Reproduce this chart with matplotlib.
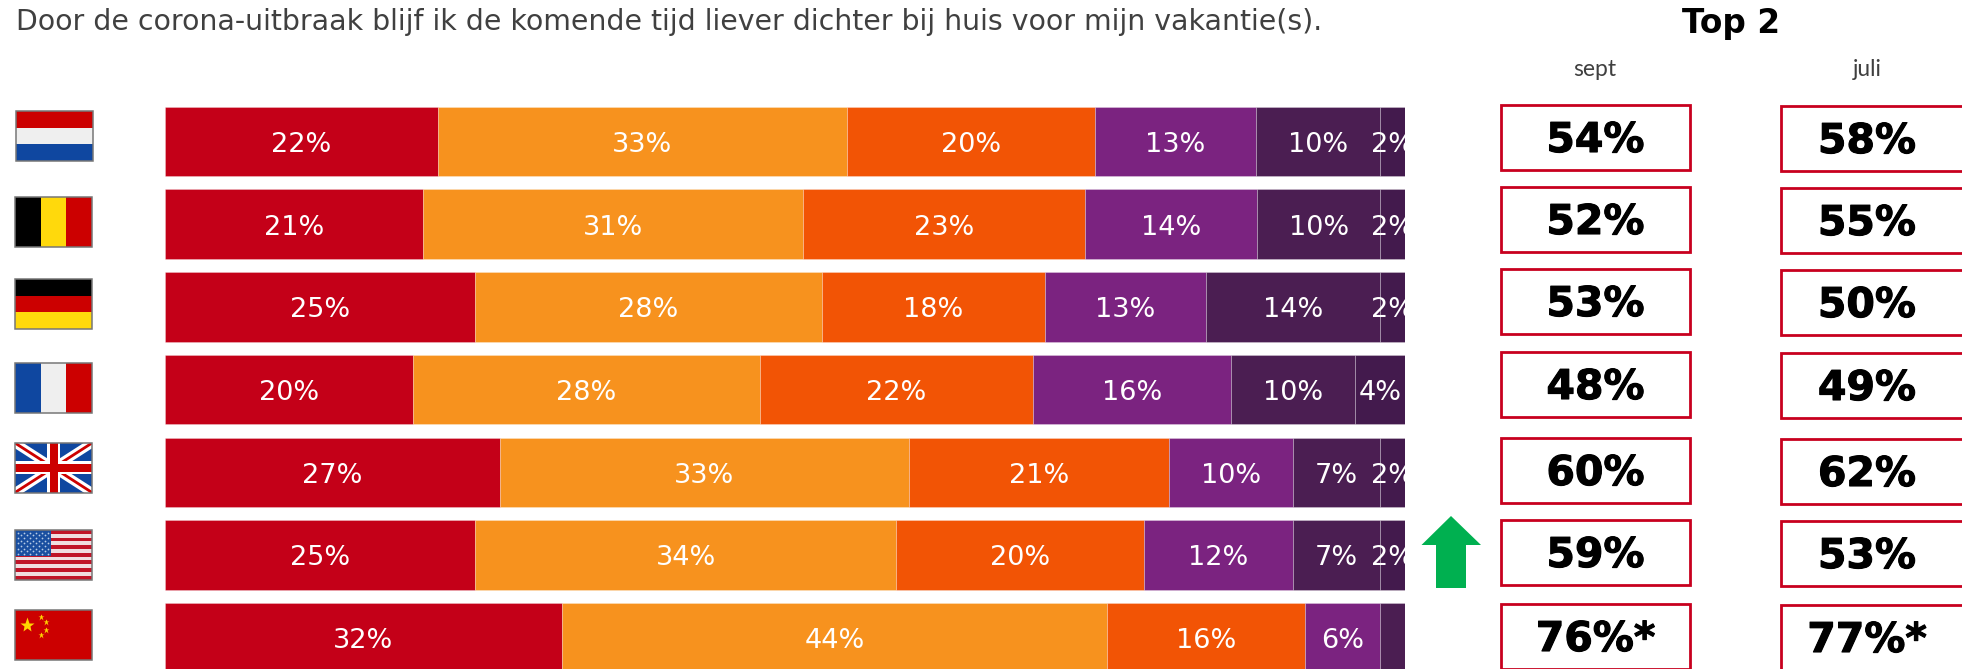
import matplotlib
matplotlib.use("Agg")
import matplotlib.pyplot as plt
import matplotlib.patheffects as pe
from matplotlib.patches import Rectangle, Polygon

W, H = 1962, 669

title = "Door de corona-uitbraak blijf ik de komende tijd liever dichter bij huis voor mijn vakantie(s)."
countries = ["NL", "BE", "DE", "FR", "UK", "US", "CN"]
s1 = [22, 21, 25, 20, 27, 25, 32]
s2 = [33, 31, 28, 28, 33, 34, 44]
s3 = [20, 23, 18, 22, 21, 20, 16]
s4 = [13, 14, 13, 16, 10, 12, 6]
s5 = [10, 10, 14, 10, 7, 7, 2]
s6 = [2, 2, 2, 4, 2, 2, 0]
series = [s1, s2, s3, s4, s5, s6]
colors = ["#C40018", "#F7921E", "#F25405", "#7B2380", "#4B1E52", "#431A4D"]
top2_sept = ["54%", "52%", "53%", "48%", "60%", "59%", "76%*"]
top2_juli = ["58%", "55%", "50%", "49%", "62%", "53%", "77%*"]

fig = plt.figure(figsize=(W / 100, H / 100), dpi=100, facecolor="white")

# bar axes: pixel rows mapped to category positions
row0, pitch = 141.5, 82.7
ax = fig.add_axes([165 / W, 0, 1239.5 / W, 1])
ax.set_xlim(0, 100)
ax.set_ylim((H - row0) / pitch, -row0 / pitch)
ax.axis("off")

totals = [sum(s[i] for s in series) for i in range(len(countries))]
left = [0.0] * len(countries)
for vals, col in zip(series, colors):
    widths = [v / t * 100 for v, t in zip(vals, totals)]
    ax.barh(range(len(countries)), widths, left=left, height=0.84, color=col,
            edgecolor=(1, 1, 1, 0.3), linewidth=0.6)
    for i, (v, w, l) in enumerate(zip(vals, widths, left)):
        if v == 0 or (i == 6 and col == colors[4]):
            continue
        ax.text(l + w / 2, i + 0.04, f"{v}%", ha="center", va="center", color="white",
                fontsize=19.5, clip_on=True, family="DejaVu Sans")
    left = [l + w for l, w in zip(left, widths)]

# overlay in pixel coordinates for flags, boxes, arrow and heading text
ov = fig.add_axes([0, 0, 1, 1])
ov.set_xlim(0, W)
ov.set_ylim(H, 0)
ov.axis("off")
ov.patch.set_alpha(0)

ov.text(16, 22, title, fontsize=20.4, color="#404040", ha="left", va="center", family="DejaVu Sans")
ov.text(1731, 23, "Top 2", fontsize=23.6, fontweight="bold", color="black", ha="center", va="center")
ov.text(1595, 69, "sept", fontsize=16.5, color="#404040", ha="center", va="center", family="Lato")
ov.text(1867.5, 69, "juli", fontsize=16.5, color="#404040", ha="center", va="center", family="Lato")

heavy = [pe.withStroke(linewidth=0.8, foreground="black")]
box_tops = [105, 187, 269, 352, 438, 520, 604]
for i, top in enumerate(box_tops):
    for x0, txt, dy, cx in ((1501, top2_sept[i], 0, 1595.5), (1781, top2_juli[i], 1, 1867)):
        ov.add_patch(Rectangle((x0, top + dy), 188.5, 64.5, fc="white", ec="#C8001E", lw=2, clip_on=True))
        ov.text(cx, top + dy + 36, txt, fontsize=29.5, fontweight="bold", color="black",
                ha="center", va="center", path_effects=heavy)

# arrow
ov.add_patch(Polygon([(1451, 516), (1481, 545), (1466, 545), (1466, 588), (1436, 588), (1436, 545), (1421.5, 545)],
                     closed=True, fc="#00B050", ec="none"))

# flags
RED, BLUE, GOLD, PALE = "#CC0000", "#0F47A0", "#FFD90C", "#EFEFEF"
flag_boxes = [(16, 111), (15, 197), (15, 279), (15, 363), (15, 443), (15, 530), (15, 610)]
fw, fh = 77, 49.5


def rect(x, y, w, h, c, z=3):
    ov.add_patch(Rectangle((x, y), w, h, fc=c, ec="none", zorder=z))


def frame(x, y):
    ov.add_patch(Rectangle((x, y), fw, fh, fc="none", ec="#777777", lw=1.1, zorder=8))


def hstripes(x, y, cs):
    h = fh / len(cs)
    for k, c in enumerate(cs):
        rect(x, y + k * h, fw, h, c)


def vstripes(x, y, cs):
    w = fw / len(cs)
    for k, c in enumerate(cs):
        rect(x + k * w, y, w, fh, c)


(x, y) = flag_boxes[0]; hstripes(x, y, [RED, PALE, BLUE])
(x, y) = flag_boxes[1]; vstripes(x, y, ["black", GOLD, RED])
(x, y) = flag_boxes[2]; hstripes(x, y, ["black", RED, GOLD])
(x, y) = flag_boxes[3]; vstripes(x, y, [BLUE, PALE, RED])

# UK
(x, y) = flag_boxes[4]
rect(x, y, fw, fh, BLUE)
clip = Rectangle((x, y), fw, fh, transform=ov.transData)
for (a, b) in (((x, y), (x + fw, y + fh)), ((x, y + fh), (x + fw, y))):
    l1, = ov.plot([a[0], b[0]], [a[1], b[1]], color="white", lw=6.5, zorder=4, solid_capstyle="butt")
    l2, = ov.plot([a[0], b[0]], [a[1], b[1]], color=RED, lw=2.0, zorder=4.5, solid_capstyle="butt")
    l1.set_clip_path(clip); l2.set_clip_path(clip)
rect(x + 32, y, 13, fh, "white", 5); rect(x, y + 18, fw, 13, "white", 5)
rect(x + 34.5, y, 8, fh, RED, 6); rect(x, y + 20.5, fw, 8, RED, 6)

# US
(x, y) = flag_boxes[5]
for k in range(13):
    rect(x, y + k * fh / 13, fw, fh / 13, "#C01428" if k % 2 == 0 else "#F0DDE0")
rect(x, y, 35.5, 26, "#1A4FA0", 4)
for r in range(9):
    n = 6 if r % 2 == 0 else 5
    off = 3 if r % 2 == 0 else 6
    ov.scatter([x + off + c * 6 for c in range(n)], [y + 2.5 + r * 2.7] * n, s=1.6, c="#B8CCE6",
               linewidths=0, zorder=5)

# China
(x, y) = flag_boxes[6]
rect(x, y, fw, fh, RED)
ov.plot([x + 12], [y + 14.5], marker="*", ms=11, color="#FFD500", mec="none", zorder=5)
for dx, dy in ((25.5, 6.7), (30.5, 12), (30.5, 19.5), (25.5, 24.5)):
    ov.plot([x + dx], [y + dy], marker="*", ms=4.5, color="#FFD500", mec="none", zorder=5)

for (x, y) in flag_boxes:
    frame(x, y)

fig.savefig("out.png", dpi=100, facecolor="white")
